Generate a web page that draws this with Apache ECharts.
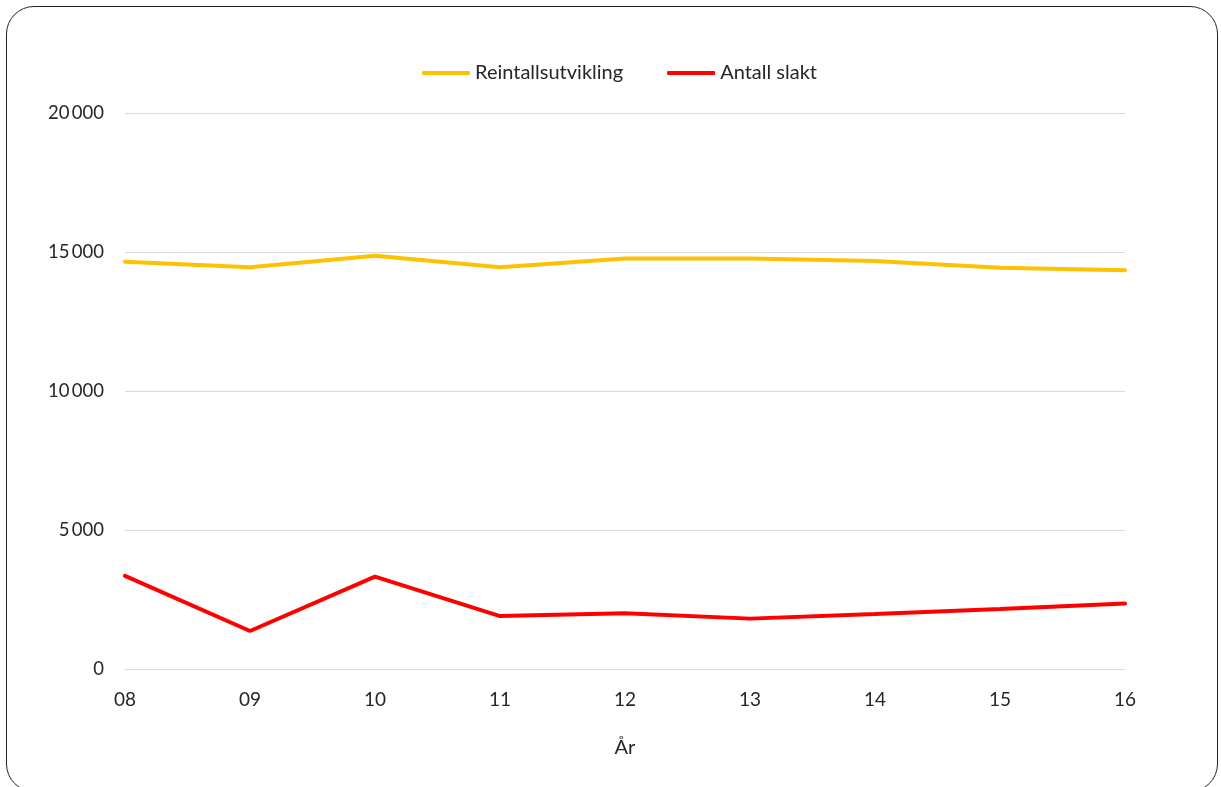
<!DOCTYPE html>
<html>
<head>
<meta charset="utf-8">
<script src="https://cdn.jsdelivr.net/npm/echarts@6/dist/echarts.min.js"></script>
<style>
  html, body { margin: 0; padding: 0; background: #fff; overflow: hidden; }
  #frame { position: absolute; left: 6px; top: 6px; width: 1212px; height: 786px; border: 1.5px solid #222; border-radius: 28px; box-sizing: border-box; }
  #chart { position: absolute; left: 0; top: 0; width: 1221px; height: 787px; }
</style>
</head>
<body>
<div id="frame"></div>
<div id="chart"></div>
<script>
const years = ['08', '09', '10', '11', '12', '13', '14', '15', '16'];
const reintall = [14670, 14470, 14880, 14470, 14780, 14780, 14690, 14450, 14360];
const slakt = [3370, 1385, 3340, 1920, 2020, 1830, 2000, 2180, 2370];
const yTicks = [0, 5000, 10000, 15000, 20000];

const font = 'Lato, "Open Sans", sans-serif';
const chart = echarts.init(document.getElementById('chart'), null, { renderer: 'canvas' });
chart.setOption({
  animation: false,
  backgroundColor: 'transparent',
  legend: {
    top: 58,
    left: 417,
    itemWidth: 48,
    itemHeight: 4,
    itemGap: 44,
    icon: 'roundRect',
    textStyle: { fontFamily: font, fontSize: 20, color: '#262626' },
    data: ['Reintallsutvikling', 'Antall slakt']
  },
  grid: { left: 125, right: 96, top: 113.5, bottom: 117.5, containLabel: false },
  xAxis: {
    type: 'category',
    data: years,
    boundaryGap: false,
    name: 'År',
    nameLocation: 'middle',
    nameGap: 68,
    nameTextStyle: { fontFamily: font, fontSize: 20, color: '#262626' },
    axisLine: { show: false },
    axisTick: { show: false },
    axisLabel: { fontFamily: font, fontSize: 19, color: '#262626', margin: 21 }
  },
  yAxis: {
    type: 'value',
    min: 0,
    max: 20000,
    interval: 5000,
    axisLine: { show: false },
    axisTick: { show: false },
    splitLine: { lineStyle: { color: '#d9d9d9', width: 1 } },
    axisLabel: {
      fontFamily: font, fontSize: 18.5, color: '#262626', margin: 21,
      formatter: v => yTicks.includes(v) ? String(v).replace(/\B(?=(\d{3})+(?!\d))/g, '\u2009') : ''
    }
  },
  series: [
    {
      name: 'Reintallsutvikling',
      type: 'line',
      data: reintall,
      symbol: 'none',
      color: '#ffc000',
      lineStyle: { width: 4, color: '#ffc000', cap: 'round' }
    },
    {
      name: 'Antall slakt',
      type: 'line',
      data: slakt,
      symbol: 'none',
      color: '#ff0000',
      lineStyle: { width: 4, color: '#ff0000', cap: 'round' }
    }
  ]
});
</script>
</body>
</html>
